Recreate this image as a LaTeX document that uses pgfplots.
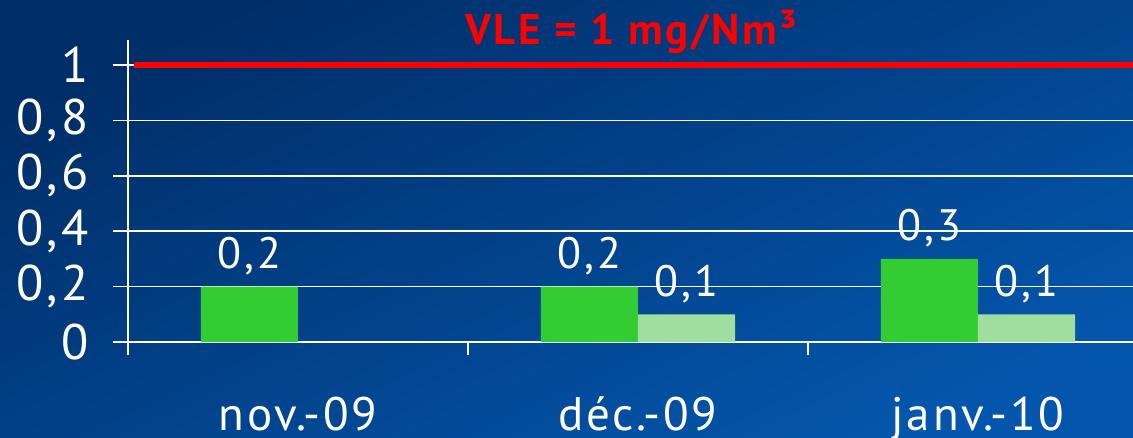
\documentclass[border=0pt]{standalone}
\usepackage{pgfplots}
\pgfplotsset{compat=1.18}
\usepackage{fontspec}
\setmainfont{PT Sans}[LetterSpace=6]
\definecolor{bgtop}{RGB}{0,46,104}
\definecolor{bgbot}{RGB}{4,86,172}
\definecolor{barA}{RGB}{51,204,51}
\definecolor{barB}{RGB}{160,222,160}
\begin{document}
\begin{tikzpicture}[x=1pt,y=1pt]
\shade[top color=bgtop,bottom color=bgbot,shading angle=25] (0,0) rectangle (1133,437);
\useasboundingbox (0,0) rectangle (1133,437);
\begin{axis}[
  at={(128pt,95pt)}, anchor=south west,
  scale only axis, width=1005pt, height=302pt,
  xmin=0.5, xmax=3.456, ymin=0, ymax=1.09,
  axis lines*=left,
  axis line style={white, line width=1.5pt},
  clip=false,
  ytick={0,0.2,0.4,0.6,0.8,1},
  ymajorgrids, grid style={white, line width=1.5pt},
  tick style={white, line width=1.5pt},
  tick align=outside, major tick length=15pt,
  xtick={1,2,3}, xticklabels={nov.-09, déc.-09, janv.-10},
  major x tick style={draw=none},
  minor xtick={0.5,1.5,2.5}, minor tick length=13pt,
  /pgf/number format/use comma,
  /pgf/number format/assume math mode=true,
  yticklabel style={white, font=\fontsize{50}{50}\selectfont, anchor=east, xshift=-21pt},
  xticklabel style={white, font=\fontsize{47}{47}\selectfont, anchor=base, yshift=-73pt},
  nodes near coords style={white, font=\fontsize{44}{44}\selectfont, anchor=base, yshift=18pt},
]
\addplot[ybar, bar width=97pt, bar shift=-48.5pt, fill=barA, draw=none, nodes near coords,
  nodes near coords style={xshift=-48.5pt}]
  coordinates {(1,0.2) (2,0.2) (3,0.3)};
\addplot[ybar, bar width=97pt, bar shift=48.5pt, fill=barB, draw=none, nodes near coords,
  nodes near coords style={xshift=48.5pt}]
  coordinates {(2,0.1) (3,0.1)};
\addplot[red, line width=6pt, sharp plot, mark=none] coordinates {(0.518,1) (3.456,1)};
\node[anchor=base, text=red, font=\bfseries\fontsize{43}{43}\selectfont] at (axis cs:1.98,1.075) {VLE = 1 mg/Nm³};
\end{axis}
\end{tikzpicture}
\end{document}
